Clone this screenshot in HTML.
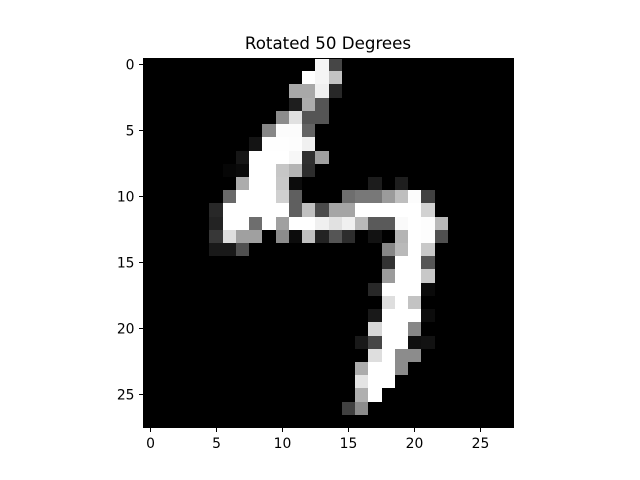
<!DOCTYPE html>
<html lang="en">
<head>
<meta charset="utf-8">
<title>Rotated 50 Degrees</title>
<style>
  html, body { margin: 0; padding: 0; background: #fff; }
  svg { display: block; }
  text { font-family: "DejaVu Sans", "Liberation Sans", sans-serif; fill: #000; }
</style>
</head>
<body>
<svg id="chart" width="640" height="480" viewBox="0 0 640 480" xmlns="http://www.w3.org/2000/svg">
  <rect x="0" y="0" width="640" height="480" fill="#ffffff"/>
  <text id="title" x="328" y="49" font-size="16.67" text-anchor="middle">Rotated 50 Degrees</text>
  <g id="cells" shape-rendering="crispEdges"></g>
  <rect id="frame" fill="none" stroke="#000" stroke-width="1" shape-rendering="crispEdges"/>
  <g id="x-axis" shape-rendering="crispEdges"></g>
  <g id="y-axis" shape-rendering="crispEdges"></g>
</svg>
<script>
const xTickLabels = [0, 5, 10, 15, 20, 25];
const yTickLabels = [0, 5, 10, 15, 20, 25];
const pixelRows = [
  [0,0,0,0,0,0,0,0,0,0,0,0,0,245,70,0,0,0,0,0,0,0,0,0,0,0,0,0],
  [0,0,0,0,0,0,0,0,0,0,0,0,255,245,195,0,0,0,0,0,0,0,0,0,0,0,0,0],
  [0,0,0,0,0,0,0,0,0,0,0,168,168,240,40,0,0,0,0,0,0,0,0,0,0,0,0,0],
  [0,0,0,0,0,0,0,0,0,0,0,30,172,85,0,0,0,0,0,0,0,0,0,0,0,0,0,0],
  [0,0,0,0,0,0,0,0,0,0,140,225,85,85,0,0,0,0,0,0,0,0,0,0,0,0,0,0],
  [0,0,0,0,0,0,0,0,0,135,252,252,100,0,0,0,0,0,0,0,0,0,0,0,0,0,0,0],
  [0,0,0,0,0,0,0,0,20,254,254,253,240,0,0,0,0,0,0,0,0,0,0,0,0,0,0,0],
  [0,0,0,0,0,0,0,22,255,255,255,247,48,160,0,0,0,0,0,0,0,0,0,0,0,0,0,0],
  [0,0,0,0,0,0,6,10,255,255,198,180,45,0,0,0,0,0,0,0,0,0,0,0,0,0,0,0],
  [0,0,0,0,0,0,0,172,255,255,200,12,0,0,0,0,0,28,0,30,0,0,0,0,0,0,0,0],
  [0,0,0,0,0,0,105,255,255,255,208,95,0,0,0,110,120,120,155,190,252,65,0,0,0,0,0,0],
  [0,0,0,0,0,40,255,255,255,255,255,95,192,75,165,165,255,255,255,255,255,210,0,0,0,0,0,0],
  [0,0,0,0,0,35,255,255,110,255,160,255,255,240,225,240,185,90,90,250,255,253,185,0,0,0,0,0],
  [0,0,0,0,0,55,222,160,160,0,140,12,192,35,85,45,0,18,0,180,255,253,80,0,0,0,0,0],
  [0,0,0,0,0,25,25,80,0,0,0,0,0,0,0,0,0,0,135,185,255,200,0,0,0,0,0,0],
  [0,0,0,0,0,0,0,0,0,0,0,0,0,0,0,0,0,0,50,255,255,85,0,0,0,0,0,0],
  [0,0,0,0,0,0,0,0,0,0,0,0,0,0,0,0,0,0,155,255,255,200,0,0,0,0,0,0],
  [0,0,0,0,0,0,0,0,0,0,0,0,0,0,0,0,0,40,255,255,255,10,0,0,0,0,0,0],
  [0,0,0,0,0,0,0,0,0,0,0,0,0,0,0,0,0,0,222,255,195,0,0,0,0,0,0,0],
  [0,0,0,0,0,0,0,0,0,0,0,0,0,0,0,0,0,25,255,255,255,12,0,0,0,0,0,0],
  [0,0,0,0,0,0,0,0,0,0,0,0,0,0,0,0,0,215,255,255,135,0,0,0,0,0,0,0],
  [0,0,0,0,0,0,0,0,0,0,0,0,0,0,0,0,25,70,255,255,15,18,0,0,0,0,0,0],
  [0,0,0,0,0,0,0,0,0,0,0,0,0,0,0,0,0,222,255,140,140,0,0,0,0,0,0,0],
  [0,0,0,0,0,0,0,0,0,0,0,0,0,0,0,0,172,255,255,140,0,0,0,0,0,0,0,0],
  [0,0,0,0,0,0,0,0,0,0,0,0,0,0,0,0,228,255,255,0,0,0,0,0,0,0,0,0],
  [0,0,0,0,0,0,0,0,0,0,0,0,0,0,0,0,175,255,0,0,0,0,0,0,0,0,0,0],
  [0,0,0,0,0,0,0,0,0,0,0,0,0,0,0,65,140,0,0,0,0,0,0,0,0,0,0,0],
  [0,0,0,0,0,0,0,0,0,0,0,0,0,0,0,0,0,0,0,0,0,0,0,0,0,0,0,0]
];

const SVG_NS = 'http://www.w3.org/2000/svg';
const plotLeft = 143;
const plotRight = 514;
const plotTop = 58;
const plotBottom = 428;
const colCount = pixelRows[0].length;
const rowCount = pixelRows.length;

function xEdge(col) {
  return plotLeft + (plotRight - plotLeft) * col / colCount;
}
function yEdge(row) {
  return plotTop + (plotBottom - plotTop) * row / rowCount;
}
function xTick(v) {
  return Math.floor(150.3 + 13.2 * v) + 0.5;
}
function yTick(v) {
  return Math.floor(64.6 + 13.2 * v) + 0.5;
}
function make(tag, attrs) {
  const el = document.createElementNS(SVG_NS, tag);
  for (const k in attrs) el.setAttribute(k, attrs[k]);
  return el;
}

const cellsGroup = document.getElementById('cells');
pixelRows.forEach(function (row, r) {
  row.forEach(function (value, c) {
    const x0 = Math.round(xEdge(c));
    const x1 = Math.round(xEdge(c + 1));
    const y0 = Math.round(yEdge(r));
    const y1 = Math.round(yEdge(r + 1));
    const cell = make('rect', { x: x0, y: y0, width: x1 - x0, height: y1 - y0, fill: 'rgb(' + value + ',' + value + ',' + value + ')' });
    
    
    cellsGroup.appendChild(cell);
  });
});

const frame = document.getElementById('frame');
frame.setAttribute('x', plotLeft + 0.5);
frame.setAttribute('y', plotTop + 0.5);
frame.setAttribute('width', plotRight - plotLeft - 1);
frame.setAttribute('height', plotBottom - plotTop - 1);

const xAxis = document.getElementById('x-axis');
xTickLabels.forEach(function (label) {
  const px = xTick(label);
  const tick = make('line', { x1: px, x2: px, y1: plotBottom, y2: plotBottom + 4, stroke: '#000', 'stroke-width': 1 });
  
  
  xAxis.appendChild(tick);
  const text = make('text', { x: px, y: 448, 'font-size': 13.89, 'text-anchor': 'middle' });
  
  
  text.textContent = label;
  xAxis.appendChild(text);
});

const yAxis = document.getElementById('y-axis');
yTickLabels.forEach(function (label) {
  const py = yTick(label);
  const tick = make('line', { x1: plotLeft - 4, x2: plotLeft, y1: py, y2: py, stroke: '#000', 'stroke-width': 1 });
  
  
  yAxis.appendChild(tick);
  const text = make('text', { x: 134.5, y: py + 5, 'font-size': 13.89, 'text-anchor': 'end' });
  
  
  text.textContent = label;
  yAxis.appendChild(text);
});
</script>
</body>
</html>
